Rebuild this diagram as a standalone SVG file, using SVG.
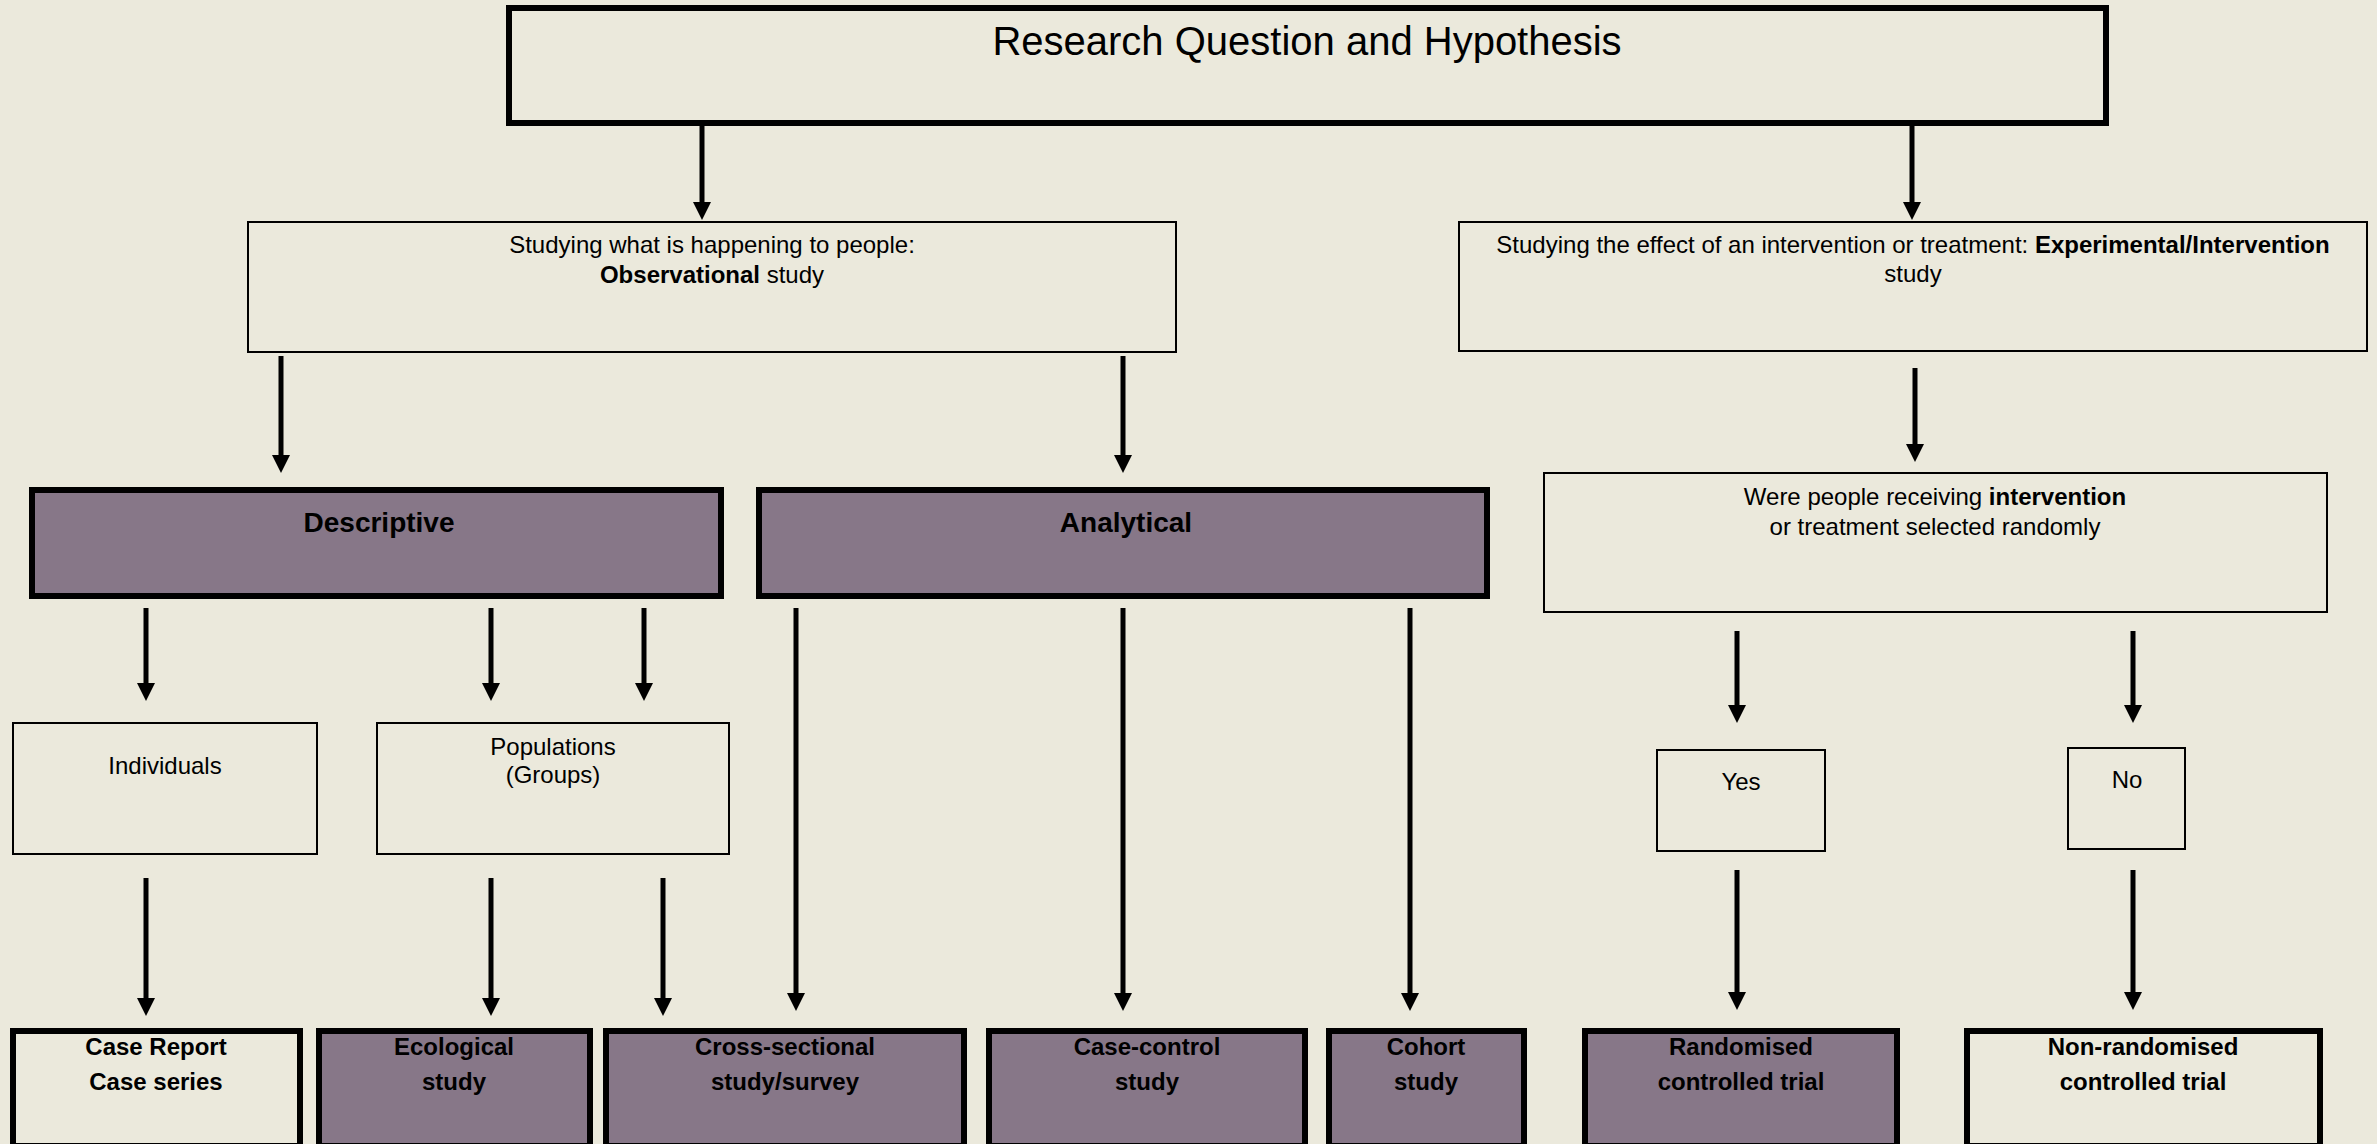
<svg xmlns="http://www.w3.org/2000/svg" width="2377" height="1144" viewBox="0 0 2377 1144">
  <style>
    text { font-family: "Liberation Sans", Arial, sans-serif; fill: #000; text-anchor: middle; }
    .t24 { font-size: 24px; }
    .b24 { font-size: 24px; font-weight: bold; }
    .b28 { font-size: 28px; font-weight: bold; }
    .title { font-size: 40px; }
    .thin { fill: #ebe9dc; stroke: #000; stroke-width: 2; }
    .thick { fill: #ebe9dc; stroke: #000; stroke-width: 6; }
    .purple { fill: #877788; stroke: #000; stroke-width: 6; }
    .conn line { stroke: #000; stroke-width: 5; marker-end: url(#arrow); }
  </style>
  <defs>
    <marker id="arrow" markerUnits="userSpaceOnUse" viewBox="0 0 18 18" markerWidth="18" markerHeight="18" refX="2" refY="9" orient="auto">
      <path d="M0,0 L18,9 L0,18 z" fill="#000"/>
    </marker>
  </defs>

  <rect width="2377" height="1144" fill="#ebe9dc"/>

  <!-- connectors: line end + 16 = arrow tip -->
  <g id="connectors" class="conn">
    <line x1="702" y1="126" x2="702" y2="204"/>
    <line x1="1912" y1="126" x2="1912" y2="204"/>
    <line x1="281" y1="356" x2="281" y2="457"/>
    <line x1="1123" y1="356" x2="1123" y2="457"/>
    <line x1="1915" y1="368" x2="1915" y2="446"/>
    <line x1="146" y1="608" x2="146" y2="685"/>
    <line x1="491" y1="608" x2="491" y2="685"/>
    <line x1="644" y1="608" x2="644" y2="685"/>
    <line x1="796" y1="608" x2="796" y2="995"/>
    <line x1="1123" y1="608" x2="1123" y2="995"/>
    <line x1="1410" y1="608" x2="1410" y2="995"/>
    <line x1="1737" y1="631" x2="1737" y2="707"/>
    <line x1="2133" y1="631" x2="2133" y2="707"/>
    <line x1="146" y1="878" x2="146" y2="1000"/>
    <line x1="491" y1="878" x2="491" y2="1000"/>
    <line x1="663" y1="878" x2="663" y2="1000"/>
    <line x1="1737" y1="870" x2="1737" y2="994"/>
    <line x1="2133" y1="870" x2="2133" y2="994"/>
  </g>

  <g id="research-question">
    <rect class="thick" x="509" y="8" width="1597" height="115"/>
    <text class="title" x="1307" y="55">Research Question and Hypothesis</text>
  </g>

  <g id="observational">
    <rect class="thin" x="248" y="222" width="928" height="130"/>
    <text class="t24" x="712" y="253">Studying what is happening to people:</text>
    <text class="t24" x="712" y="283"><tspan font-weight="bold">Observational</tspan> study</text>
  </g>

  <g id="experimental">
    <rect class="thin" x="1459" y="222" width="908" height="129"/>
    <text class="t24" x="1913" y="253">Studying the effect of an intervention or treatment: <tspan font-weight="bold">Experimental/Intervention</tspan></text>
    <text class="t24" x="1913" y="282">study</text>
  </g>

  <g id="randomly-selected">
    <rect class="thin" x="1544" y="473" width="783" height="139"/>
    <text class="t24" x="1935" y="505">Were people receiving <tspan font-weight="bold">intervention</tspan></text>
    <text class="t24" x="1935" y="535">or treatment selected randomly</text>
  </g>

  <g id="descriptive">
    <rect class="purple" x="32" y="490" width="689" height="106"/>
    <text class="b28" x="379" y="532">Descriptive</text>
  </g>

  <g id="analytical">
    <rect class="purple" x="759" y="490" width="728" height="106"/>
    <text class="b28" x="1126" y="532">Analytical</text>
  </g>

  <g id="individuals">
    <rect class="thin" x="13" y="723" width="304" height="131"/>
    <text class="t24" x="165" y="774">Individuals</text>
  </g>

  <g id="populations">
    <rect class="thin" x="377" y="723" width="352" height="131"/>
    <text class="t24" x="553" y="755">Populations</text>
    <text class="t24" x="553" y="783">(Groups)</text>
  </g>

  <g id="yes">
    <rect class="thin" x="1657" y="750" width="168" height="101"/>
    <text class="t24" x="1741" y="790">Yes</text>
  </g>

  <g id="no">
    <rect class="thin" x="2068" y="748" width="117" height="101"/>
    <text class="t24" x="2127" y="788">No</text>
  </g>

  <g id="case-report">
    <rect class="thick" x="13" y="1031" width="287" height="115"/>
    <text class="b24" x="156" y="1055">Case Report</text>
    <text class="b24" x="156" y="1090">Case series</text>
  </g>

  <g id="ecological">
    <rect class="purple" x="319" y="1031" width="271" height="115"/>
    <text class="b24" x="454" y="1055">Ecological</text>
    <text class="b24" x="454" y="1090">study</text>
  </g>

  <g id="cross-sectional">
    <rect class="purple" x="606" y="1031" width="358" height="115"/>
    <text class="b24" x="785" y="1055">Cross-sectional</text>
    <text class="b24" x="785" y="1090">study/survey</text>
  </g>

  <g id="case-control">
    <rect class="purple" x="989" y="1031" width="316" height="115"/>
    <text class="b24" x="1147" y="1055">Case-control</text>
    <text class="b24" x="1147" y="1090">study</text>
  </g>

  <g id="cohort">
    <rect class="purple" x="1329" y="1031" width="195" height="115"/>
    <text class="b24" x="1426" y="1055">Cohort</text>
    <text class="b24" x="1426" y="1090">study</text>
  </g>

  <g id="randomised">
    <rect class="purple" x="1585" y="1031" width="312" height="115"/>
    <text class="b24" x="1741" y="1055">Randomised</text>
    <text class="b24" x="1741" y="1090">controlled trial</text>
  </g>

  <g id="non-randomised">
    <rect class="thick" x="1967" y="1031" width="353" height="115"/>
    <text class="b24" x="2143" y="1055">Non-randomised</text>
    <text class="b24" x="2143" y="1090">controlled trial</text>
  </g>
</svg>
